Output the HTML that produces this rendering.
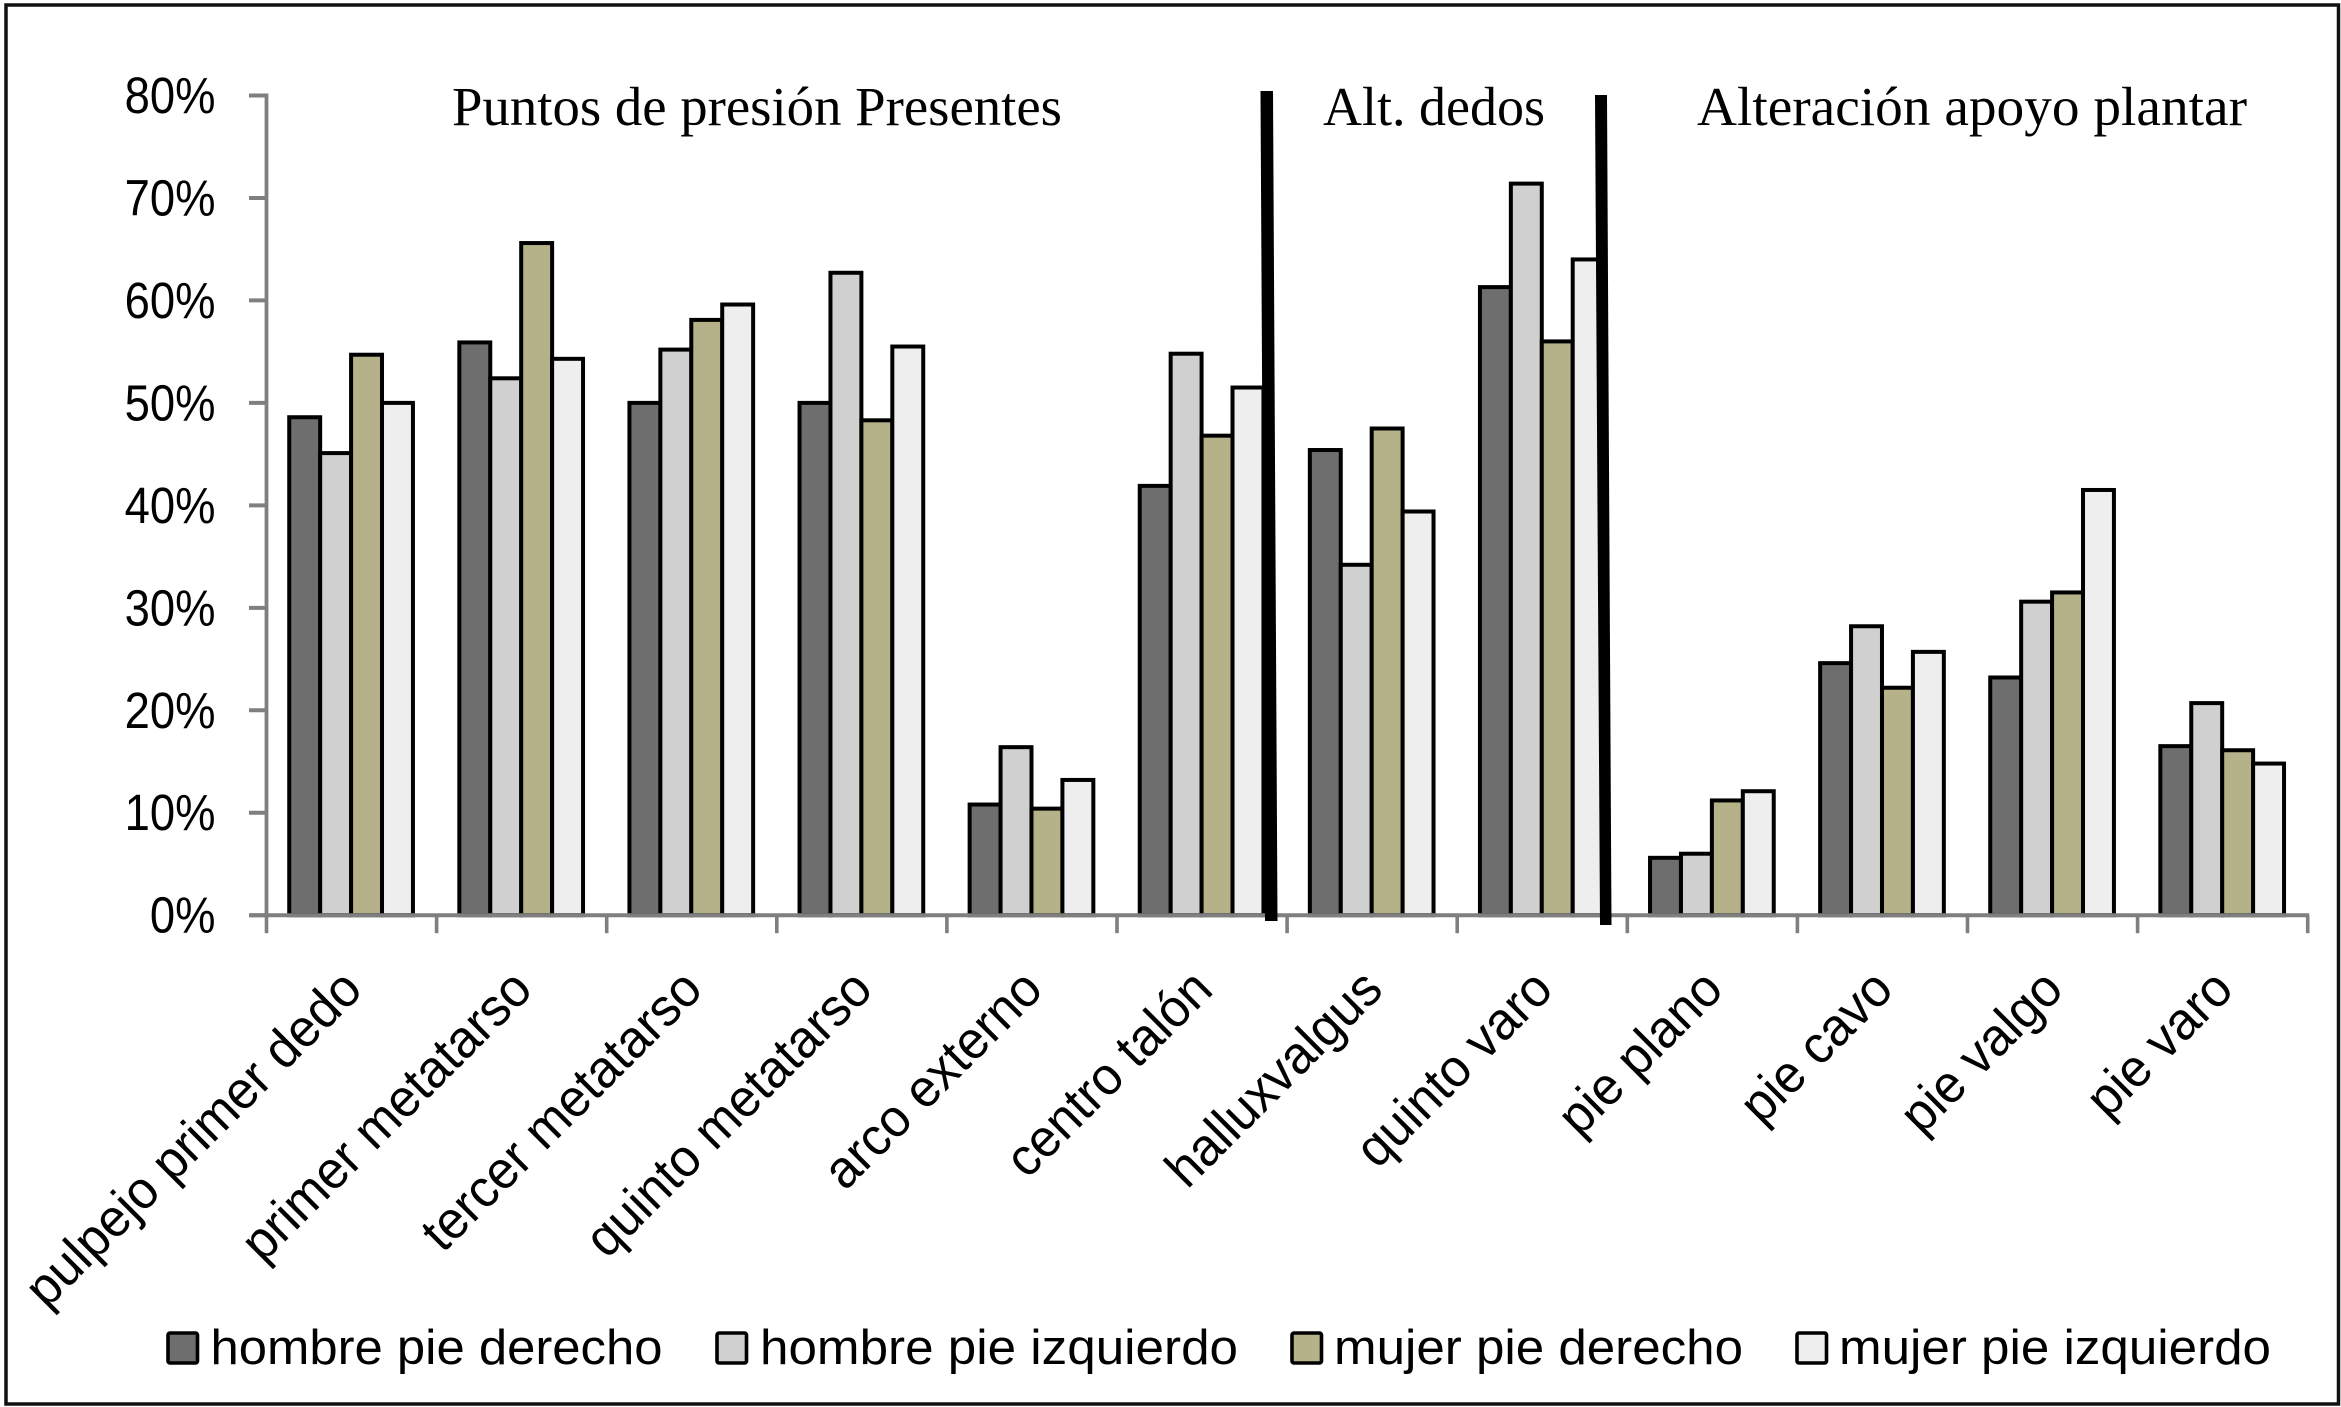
<!DOCTYPE html>
<html lang="es">
<head>
<meta charset="utf-8">
<title>Puntos de presión y alteraciones del pie</title>
<style>
html,body{margin:0;padding:0;background:#fff;}
svg{display:block;}
text{fill:#000;}
.sans{font-family:"Liberation Sans",sans-serif;}
.serif{font-family:"Liberation Serif",serif;}
</style>
</head>
<body>
<svg id="chart" xmlns="http://www.w3.org/2000/svg" width="2341" height="1407" viewBox="0 0 2341 1407">
  <rect x="0" y="0" width="2341" height="1407" fill="#fff"/>
  <rect x="6" y="5" width="2332.5" height="1399" fill="none" stroke="#111" stroke-width="3.5"/>
  <g id="bars"></g>
  <g id="axes"></g>
  <polygon points="1260.5,91 1273,91 1277.5,921 1265,921" fill="#000"/>
  <polygon points="1595,95 1607,95 1611.5,925 1600,925" fill="#000"/>
  <text class="serif" x="452" y="125" font-size="55" textLength="610" lengthAdjust="spacingAndGlyphs">Puntos de presión Presentes</text>
  <text class="serif" x="1323" y="125" font-size="55" textLength="222" lengthAdjust="spacingAndGlyphs">Alt. dedos</text>
  <text class="serif" x="1697" y="125" font-size="55" textLength="550" lengthAdjust="spacingAndGlyphs">Alteración apoyo plantar</text>
  <g>
    <rect x="168" y="1333" width="29.5" height="30" rx="2" fill="#6e6e6e" stroke="#000" stroke-width="3.6"/>
    <text class="sans" x="210.5" y="1364" font-size="49" textLength="452" lengthAdjust="spacingAndGlyphs">hombre pie derecho</text>
    <rect x="717" y="1333" width="29.5" height="30" rx="2" fill="#d0d0d0" stroke="#000" stroke-width="3.6"/>
    <text class="sans" x="760" y="1364" font-size="49" textLength="478" lengthAdjust="spacingAndGlyphs">hombre pie izquierdo</text>
    <rect x="1292" y="1333" width="29.5" height="30" rx="2" fill="#b5b188" stroke="#000" stroke-width="3.6"/>
    <text class="sans" x="1334" y="1364" font-size="49" textLength="409" lengthAdjust="spacingAndGlyphs">mujer pie derecho</text>
    <rect x="1797" y="1333" width="29.5" height="30" rx="2" fill="#eeeeee" stroke="#000" stroke-width="3.6"/>
    <text class="sans" x="1839" y="1364" font-size="49" textLength="432" lengthAdjust="spacingAndGlyphs">mujer pie izquierdo</text>
  </g>
</svg>
<script>
const categories = ["pulpejo primer dedo","primer metatarso","tercer metatarso","quinto metatarso","arco externo","centro talón","halluxvalgus","quinto varo","pie plano","pie cavo","pie valgo","pie varo"];
const hombrePieDerecho = [48.6,55.9,50,50,10.8,41.9,45.4,61.3,5.6,24.6,23.2,16.5];
const hombrePieIzquierdo = [45.1,52.4,55.2,62.7,16.4,54.8,34.2,71.4,6,28.2,30.6,20.7];
const mujerPieDerecho = [54.7,65.6,58.1,48.3,10.4,46.8,47.5,56,11.2,22.2,31.5,16.1];
const mujerPieIzquierdo = [50,54.3,59.6,55.5,13.2,51.5,39.4,64,12.1,25.7,41.5,14.8];
const yTicks = [0,10,20,30,40,50,60,70,80];

const NS = "http://www.w3.org/2000/svg";
const plot = {left:266.5, right:2307.7, top:95.5, bottom:915.2, yMax:80};
const seriesList = [
  {key:"hombre-derecho", values:hombrePieDerecho, fill:"#6e6e6e"},
  {key:"hombre-izquierdo", values:hombrePieIzquierdo, fill:"#d0d0d0"},
  {key:"mujer-derecho", values:mujerPieDerecho, fill:"#b5b188"},
  {key:"mujer-izquierdo", values:mujerPieIzquierdo, fill:"#eeeeee"}
];
const bandWidth = (plot.right - plot.left) / categories.length;
const barWidth = bandWidth / 5.5;
function yScale(v){ return plot.bottom - (v / plot.yMax) * (plot.bottom - plot.top); }
function xBand(i){ return plot.left + i * bandWidth; }
function make(tag, attrs){
  const el = document.createElementNS(NS, tag);
  for (const k in attrs) el.setAttribute(k, attrs[k]);
  return el;
}
const barsG = document.getElementById("bars");
const axesG = document.getElementById("axes");

seriesList.forEach(function(s, si){
  s.values.forEach(function(v, ci){
    const x = xBand(ci) + barWidth * 0.735 + si * barWidth;
    const y = yScale(v);
    const r = make("rect", {x:x, y:y, width:barWidth, height:plot.bottom - y, fill:s.fill, stroke:"#000", "stroke-width":4});
    
    
    barsG.appendChild(r);
  });
});

const yLine = make("line", {x1:plot.left, x2:plot.left, y1:plot.top - 2, y2:plot.bottom, stroke:"#7f7f7f", "stroke-width":3.8});


axesG.appendChild(yLine);

const xLine = make("line", {x1:plot.left - 17, x2:plot.right + 1.5, y1:plot.bottom, y2:plot.bottom, stroke:"#7f7f7f", "stroke-width":4});


axesG.appendChild(xLine);

yTicks.forEach(function(t){
  const y = yScale(t);
  const tick = make("line", {x1:plot.left - 17.5, x2:plot.left, y1:y, y2:y, stroke:"#7f7f7f", "stroke-width":4});
  
  
  axesG.appendChild(tick);
  const label = make("text", {"class":"sans", "font-size":51, "text-anchor":"end", transform:"translate(215.5," + (y + 17.5) + ") scale(0.89,1)"});
  
  
  label.textContent = t + "%";
  axesG.appendChild(label);
});

for (let i = 0; i <= categories.length; i++){
  const x = xBand(i);
  const tick = make("line", {x1:x, x2:x, y1:plot.bottom, y2:plot.bottom + 18, stroke:"#7f7f7f", "stroke-width":3.6});
  
  
  axesG.appendChild(tick);
}

categories.forEach(function(c, i){
  const ax = xBand(i) + bandWidth / 2 + 13;
  const ay = 992;
  const label = make("text", {"class":"sans", "font-size":53, "text-anchor":"end", transform:"translate(" + ax + "," + ay + ") rotate(-45) scale(0.96,1)"});
  
  
  label.textContent = c;
  axesG.appendChild(label);
});
</script>
</body>
</html>
